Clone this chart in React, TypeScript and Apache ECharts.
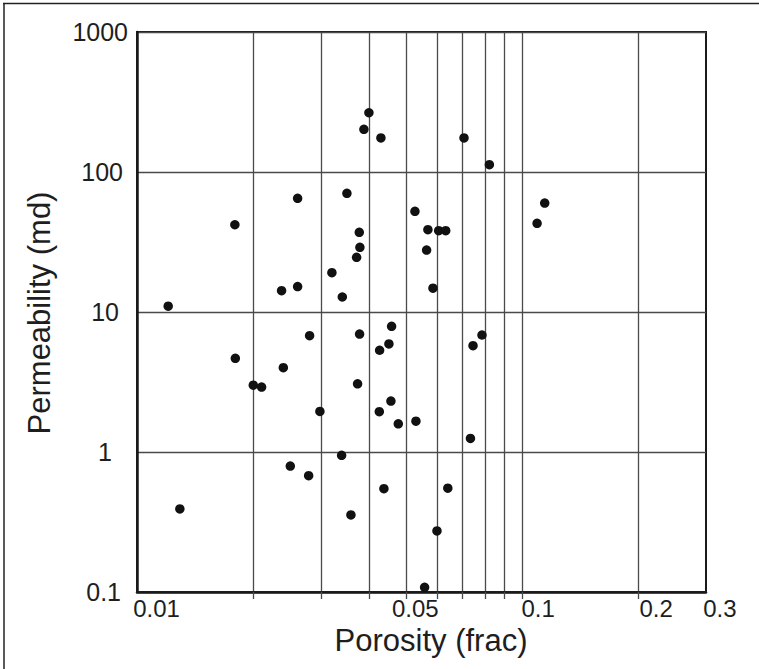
import React, { useEffect, useRef } from 'react';
import * as echarts from 'echarts';

// Porosity (frac) values of the samples
const porosity = [
  0.01205, 0.01292, 0.01795, 0.0180, 0.02004, 0.02106, 0.02373, 0.02398, 0.0250, 0.02612,
  0.02612, 0.02790, 0.02806, 0.02984, 0.03206, 0.03398, 0.03412, 0.03507, 0.03592, 0.03716,
  0.03738, 0.03776, 0.0379, 0.03783, 0.03882, 0.0400, 0.04256, 0.04264, 0.04297, 0.04375,
  0.04508, 0.04562, 0.04581, 0.04768, 0.05267, 0.05298, 0.0558, 0.05647, 0.05691, 0.05866,
  0.06008, 0.0607, 0.0633, 0.0641, 0.07062, 0.07339, 0.07453, 0.07863, 0.08218, 0.1093,
  0.1144,
];
// Permeability (md) values of the samples
const permeability = [
  11.0, 0.392, 42.0, 4.67, 3.0, 2.91, 14.2, 4.0, 0.794, 64.9,
  15.2, 0.677, 6.77, 1.95, 19.1, 0.947, 12.8, 70.4, 0.355, 24.6,
  3.07, 37.1, 29.0, 6.96, 201.8, 265, 1.94, 5.33, 175, 0.547,
  5.91, 2.31, 7.9, 1.59, 52.4, 1.66, 0.108, 27.7, 38.7, 14.8,
  0.273, 38.1, 38.1, 0.551, 175, 1.25, 5.75, 6.85, 112.8, 43.0,
  60.0,
];

const xGridValues = [0.02, 0.03, 0.04, 0.05, 0.06, 0.07, 0.08, 0.09, 0.1, 0.2];
const xLabelValues = [0.01, 0.05, 0.1, 0.2, 0.2999];
const xLabelTexts = ['0.01', '0.05', '0.1', '0.2', '0.3'];
const yLabelTexts = ['0.1', '1', '10', '100', '1000'];

const xTitle = 'Porosity (frac)';
const yTitle = 'Permeability (md)';

const FONT = '"Liberation Sans", Arial, Helvetica, sans-serif';
const TEXT = '#1e1e1e';
const GRID = '#4a4a4a';

const xPad = [39, 18, 32, 36, 28];
const yPad = [7, 16, 9, 5, 0];

export default function App() {
  const ref = useRef<HTMLDivElement>(null);

  useEffect(() => {
    if (!ref.current) return;
    const chart = echarts.init(ref.current, undefined, { renderer: 'svg' });

    const xRich: Record<string, any> = {};
    xLabelTexts.forEach((_, i) => {
      xRich['x' + i] = { fontSize: 24, fontFamily: FONT, color: TEXT, padding: [0, 0, 0, xPad[i]] };
    });
    const yRich: Record<string, any> = {};
    yLabelTexts.forEach((_, i) => {
      yRich['y' + i] = { fontSize: 25, fontFamily: FONT, color: TEXT, padding: [0, yPad[i], 0, 0] };
    });

    const option: any = {
      animation: false,
      backgroundColor: '#ffffff',
      grid: {
        left: 137,
        right: 53,
        top: 32,
        bottom: 77,
        show: true,
        borderColor: '#1a1a1a',
        borderWidth: 2,
        backgroundColor: 'transparent',
        containLabel: false,
        outerBoundsMode: 'none',
      },
      xAxis: {
        type: 'log',
        logBase: 10,
        min: 0.01,
        max: 0.3,
        axisLine: { show: true, onZero: false, lineStyle: { color: '#1a1a1a', width: 2.5 } },
        axisTick: {
          show: true,
          customValues: xGridValues,
          length: 7,
          lineStyle: { color: GRID, width: 1.3 },
        },
        splitLine: { show: true, lineStyle: { color: GRID, width: 1.3 } },
        minorTick: { show: false },
        minorSplitLine: { show: false },
        axisLabel: {
          show: true,
          customValues: xLabelValues,
          margin: 4,
          align: 'center',
          fontSize: 24,
          fontFamily: FONT,
          color: TEXT,
          showMinLabel: true,
          showMaxLabel: true,
          hideOverlap: false,
          rich: xRich,
          formatter: (v: number) => {
            let best = 0;
            let bd = Infinity;
            xLabelValues.forEach((lv, i) => {
              const d = Math.abs(Math.log10(v) - Math.log10(lv));
              if (d < bd) { bd = d; best = i; }
            });
            return '{x' + best + '|' + xLabelTexts[best] + '}';
          },
        },
      },
      yAxis: {
        type: 'log',
        logBase: 10,
        min: 0.1,
        max: 1000,
        axisLine: { show: true, onZero: false, lineStyle: { color: '#1a1a1a', width: 2.5 } },
        axisTick: { show: false },
        splitLine: { show: true, lineStyle: { color: GRID, width: 1.3 } },
        axisLabel: {
          show: true,
          margin: 9,
          fontSize: 25,
          fontFamily: FONT,
          color: TEXT,
          showMinLabel: true,
          showMaxLabel: true,
          rich: yRich,
          formatter: (v: number) => {
            let i = Math.round(Math.log10(v)) + 1;
            i = Math.max(0, Math.min(yLabelTexts.length - 1, i));
            return '{y' + i + '|' + yLabelTexts[i] + '}';
          },
        },
      },
      series: [
        {
          type: 'scatter',
          data: porosity.map((p, i) => [p, permeability[i]]),
          symbol: 'circle',
          symbolSize: 9.5,
          itemStyle: { color: '#111111', opacity: 1 },
          emphasis: { disabled: true },
          z: 5,
        },
      ],
      graphic: [
        {
          type: 'line',
          shape: { x1: 3, y1: 3.5, x2: 759, y2: 3.5 },
          style: { stroke: '#222', lineWidth: 1.5 },
          silent: true,
        },
        {
          type: 'line',
          shape: { x1: 4, y1: 3, x2: 4, y2: 669 },
          style: { stroke: '#222', lineWidth: 1.5 },
          silent: true,
        },
        {
          type: 'text',
          x: 431,
          y: 640,
          silent: true,
          style: {
            text: xTitle,
            fontSize: 31,
            fontFamily: FONT,
            fill: TEXT,
            align: 'center',
            verticalAlign: 'middle',
            textAlign: 'center',
            textVerticalAlign: 'middle',
          },
        },
        {
          type: 'text',
          x: 39,
          y: 313,
          rotation: Math.PI / 2,
          silent: true,
          style: {
            text: yTitle,
            fontSize: 31,
            fontFamily: FONT,
            fill: TEXT,
            align: 'center',
            verticalAlign: 'middle',
            textAlign: 'center',
            textVerticalAlign: 'middle',
          },
        },
      ],
    };

    chart.setOption(option);
    return () => {
      chart.dispose();
    };
  }, []);

  return (
    <div
      ref={ref}
      style={{ position: 'fixed', left: 0, top: 0, width: 759, height: 669, background: '#fff' }}
    />
  );
}
